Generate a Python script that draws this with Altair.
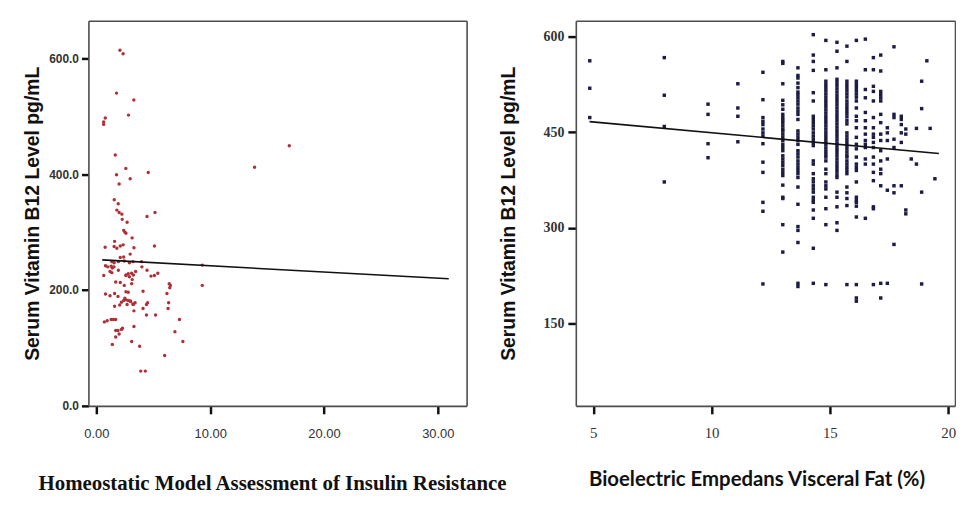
import altair as alt
import pandas as pd

# ---- Left panel: HOMA-IR vs Serum B12 ----
homa_x = [2.07, 2.35, 1.77, 3.29, 2.82, 0.78, 0.64, 0.64, 1.66, 2.59, 1.77, 2.97, 2.0, 4.56, 13.9, 16.95,
          1.57, 1.92, 1.8, 2.0, 2.24, 5.15, 4.45, 2.27, 2.7, 2.4, 2.5, 2.6, 3.14, 1.6, 0.77, 1.56, 1.8, 2.1,
          2.35, 3.3, 5.1, 2.97, 2.1, 2.4, 1.36, 1.56, 1.93, 2.45, 2.9, 3.22, 3.97, 0.8, 1.0, 1.3, 1.4, 1.55,
          0.65, 1.2, 1.36, 1.93, 2.6, 2.8, 3.1, 3.25, 3.45, 4.0, 4.45, 4.8, 5.1, 5.4, 2.6, 2.9, 1.7, 2.1,
          2.45, 3.1, 3.15, 6.4, 6.5, 6.45, 9.3, 9.3, 2.6, 4.1, 0.8, 1.2, 1.6, 1.9, 2.8, 2.5, 2.6, 2.8, 3.0,
          2.2, 2.4, 6.2, 3.2, 3.4, 3.0, 3.25, 4.4, 4.5, 1.6, 2.05, 6.35, 2.7, 6.3, 4.1, 3.3, 5.2, 4.4, 0.7,
          0.95, 1.3, 1.5, 1.7, 7.3, 3.3, 2.3, 2.2, 1.7, 1.9, 6.9, 2.0, 1.7, 1.4, 3.1, 3.8, 7.6, 6.0, 3.9, 4.3]
homa_b12 = [614, 608, 540, 528, 502, 497, 490, 486, 433, 410, 399, 392, 383, 403, 412, 449,
            356, 349, 338, 334, 331, 334, 327, 322, 317, 303, 300, 298, 290, 284, 274, 275, 272, 276,
            278, 273, 276, 262, 256, 257, 249, 247, 249, 250, 247, 249, 249, 242, 240, 241, 238, 240,
            225, 232, 230, 234, 226, 228, 229, 226, 232, 240, 234, 224, 225, 229, 225, 223, 214, 213,
            208, 211, 218, 211, 208, 204, 208, 243, 197, 198, 193, 190, 194, 189, 196, 186, 183, 182, 181,
            179, 182, 194, 176, 178, 180, 175, 175, 178, 172, 174, 178, 175, 168, 168, 164, 157, 157, 145,
            147, 149, 149, 149, 149, 137, 134, 132, 130, 130, 128, 124, 119, 106, 111, 103, 111, 87, 60, 60]
homa_fit_x = [0.52, 30.96]
homa_fit_y = [252, 219.4]

# ---- Right panel: Visceral fat vs Serum B12 ----
vf_columns = [4.85, 8.0, 9.85, 11.11, 12.17, 13.01, 13.65, 14.3, 14.83, 15.3, 15.72, 16.12, 16.5,
              16.84, 17.15, 17.43, 17.71, 18.02, 18.21, 18.44, 18.66, 18.88, 19.1, 19.24, 19.44]
vf_b12 = [
    [562, 519, 473],
    [567, 508, 459, 372],
    [494, 478, 432, 410],
    [526, 488, 475, 435],
    [544, 501, 473, 467, 462, 455, 449, 444, 432, 403, 387, 340, 326, 212],
    [561, 558, 526, 500, 493, 486, 478, 473, 469, 465, 460, 455, 452, 447, 442, 437, 431, 426, 421,
     413, 408, 403, 398, 392, 387, 382, 367, 348, 346, 305, 262],
    [551, 539, 535, 527, 520, 513, 509, 504, 499, 494, 488, 483, 478, 470, 452, 447, 442, 437, 431,
     421, 416, 411, 405, 400, 395, 390, 385, 379, 364, 337, 302, 296, 277, 213, 208],
    [603, 571, 561, 547, 512, 499, 475, 470, 465, 460, 455, 449, 444, 439, 434, 429, 405, 400, 385,
     377, 372, 366, 361, 356, 348, 343, 340, 328, 315, 268, 213],
    [594, 548, 530, 525, 520, 515, 510, 505, 500, 495, 490, 485, 480, 475, 470, 465, 460, 455, 450,
     445, 440, 435, 430, 425, 420, 415, 411, 405, 392, 385, 372, 366, 361, 348, 330, 305, 211],
    [591, 577, 551, 533, 528, 523, 518, 513, 508, 503, 498, 493, 488, 483, 478, 473, 468, 463, 458,
     453, 448, 443, 438, 433, 428, 423, 418, 413, 408, 403, 398, 393, 388, 383, 379, 356, 348, 333,
     308, 296],
    [585, 561, 530, 525, 520, 515, 510, 505, 499, 494, 489, 484, 479, 474, 468, 463, 449, 444, 439,
     434, 429, 424, 419, 414, 411, 405, 400, 395, 390, 385, 364, 355, 346, 335, 211],
    [594, 530, 525, 520, 515, 510, 505, 499, 488, 475, 468, 457, 442, 431, 424, 411, 400, 395, 390,
     372, 348, 343, 340, 334, 317, 211, 190, 185],
    [596, 548, 517, 504, 481, 468, 457, 447, 437, 431, 426, 408, 400, 315],
    [567, 548, 522, 514, 499, 473, 457, 447, 442, 434, 426, 411, 400, 387, 374, 333, 330, 211],
    [571, 546, 514, 509, 504, 499, 478, 465, 447, 437, 421, 405, 392, 385, 366, 213, 190],
    [457, 449, 437, 408, 359, 213],
    [584, 478, 473, 439, 426, 366, 355, 274],
    [475, 470, 462, 449, 434, 366],
    [455, 447, 328, 322],
    [408],
    [456, 400],
    [530, 487, 356, 212],
    [562],
    [456],
    [377],
]
vf_fit_x = [4.84, 19.61]
vf_fit_y = [466.6, 416.7]

homa_df = pd.DataFrame({"x": homa_x, "y": homa_b12})
homa_fit = pd.DataFrame({"x": homa_fit_x, "y": homa_fit_y})
vf_df = pd.DataFrame([{"x": cx, "y": v} for cx, vals in zip(vf_columns, vf_b12) for v in vals])
vf_fit = pd.DataFrame({"x": vf_fit_x, "y": vf_fit_y})

YTITLE = "Serum Vitamin B12 Level pg/mL"
FRAME_COLOR = "#4d4d4d"
FRAME_W = 1.6


def frame_axis(orient):
    return alt.Axis(orient=orient, labels=False, ticks=False, grid=False, title=None,
                    domain=True, domainColor=FRAME_COLOR, domainWidth=FRAME_W)


def panel(points_df, fit_df, mark, xscale, yscale, xaxis, yaxis, xtitle, w, h):
    x_main = alt.X("x:Q", scale=xscale, axis=xaxis, title=xtitle)
    y_main = alt.Y("y:Q", scale=yscale, axis=yaxis, title=YTITLE)
    pts = alt.Chart(points_df).mark_point().encode(x=x_main, y=y_main)
    pts = pts.mark_circle(**mark) if mark.pop("_circle", False) else pts.mark_square(**mark)
    fit = alt.Chart(fit_df).mark_line(color="#111", strokeWidth=1.6).encode(
        x=alt.X("x:Q", scale=xscale, axis=None), y=alt.Y("y:Q", scale=yscale, axis=None))
    frame = alt.Chart(fit_df).mark_line(opacity=0).encode(
        x=alt.X("x:Q", scale=xscale, axis=frame_axis("top")),
        y=alt.Y("y:Q", scale=yscale, axis=frame_axis("right")))
    return alt.layer(pts, fit, frame).resolve_axis(x="independent", y="independent").properties(
        width=w, height=h)


# Left panel
lxs = alt.Scale(domain=[-0.7, 32.53], nice=False, zero=False)
lys = alt.Scale(domain=[0, 665], nice=False, zero=False)
lxa = alt.Axis(values=[0, 10, 20, 30], format=".2f", grid=False, domain=True,
               domainColor=FRAME_COLOR, domainWidth=FRAME_W,
               tickSize=8, tickWidth=2.5, tickColor="#111", labelPadding=14,
               labelFont="Liberation Sans", labelFontSize=13, labelColor="#333",
               titleFont="Liberation Serif", titleFontSize=21, titleFontWeight="bold",
               titleColor="#111", titlePadding=32, titleX=185)
lya = alt.Axis(values=[0, 200, 400, 600], format=".1f", grid=False, domain=True,
               domainColor=FRAME_COLOR, domainWidth=FRAME_W,
               tickSize=7, tickWidth=2.5, tickColor="#111", labelPadding=3,
               labelFont="Liberation Sans", labelFontSize=12, labelFontWeight="bold",
               labelColor="#333",
               titleFont="Liberation Sans", titleFontSize=19.5, titleFontWeight="bold",
               titleColor="#111", titlePadding=6)
left = panel(homa_df, homa_fit, {"_circle": True, "size": 12, "color": "#b03038", "opacity": 1},
             lxs, lys, lxa, lya, "Homeostatic Model Assessment of Insulin Resistance", 381, 388)

# Right panel
rxs = alt.Scale(domain=[4.26, 20.29], nice=False, zero=False)
rys = alt.Scale(domain=[20.8, 624.9], nice=False, zero=False)
rxa = alt.Axis(values=[5, 10, 15, 20], format="d", grid=False, domain=True,
               domainColor=FRAME_COLOR, domainWidth=FRAME_W,
               tickSize=8, tickWidth=2.5, tickColor="#111", labelPadding=12,
               labelFont="Liberation Serif", labelFontSize=15, labelColor="#333",
               titleFont="Lato", titleFontSize=20.5, titleFontWeight="bold",
               titleColor="#111", titlePadding=29, titleX=182)
rya = alt.Axis(values=[150, 300, 450, 600], format="d", grid=False, domain=True,
               domainColor=FRAME_COLOR, domainWidth=FRAME_W,
               tickSize=8, tickWidth=2.5, tickColor="#111", labelPadding=4,
               labelFont="Liberation Serif", labelFontSize=14, labelFontWeight="bold",
               labelColor="#333",
               titleFont="Liberation Sans", titleFontSize=19.5, titleFontWeight="bold",
               titleColor="#111", titlePadding=25)
right = panel(vf_df, vf_fit, {"size": 12, "color": "#1c1c44", "opacity": 1},
              rxs, rys, rxa, rya, "Bioelectric Empedans Visceral Fat (%)", 382, 388)

chart = alt.hconcat(left, right, spacing=110, bounds="flush").properties(
    padding={"left": 14, "top": 11, "right": 0, "bottom": 0},
    background="white",
).configure_view(stroke=None)

chart.save("out.html", embed_options={"renderer": "svg", "actions": False})
